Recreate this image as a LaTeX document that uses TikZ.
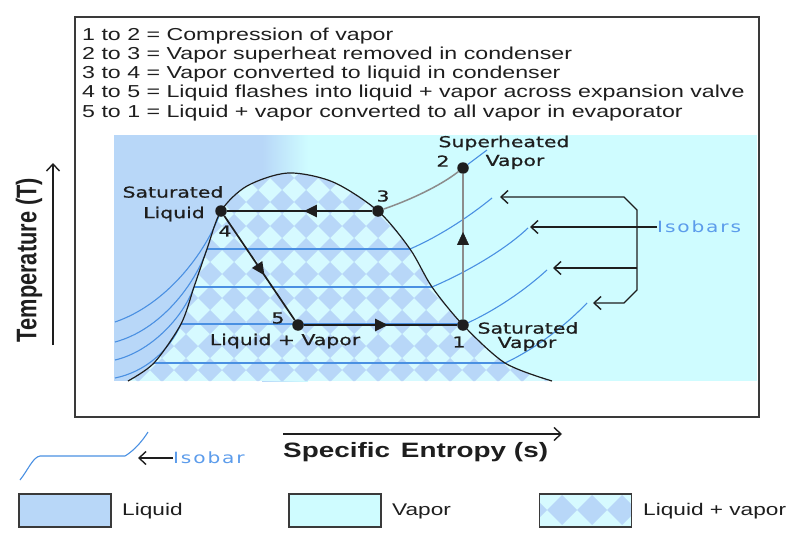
\documentclass[tikz,border=0pt]{standalone}
\usepackage{fontspec}
\setmainfont{Liberation Sans}[FakeStretch=1.34]
\newfontfamily\tslblfont{DejaVu Sans}[FakeStretch=1.36,FakeBold=0.8]
\newfontfamily\tsisofont{DejaVu Sans}[FakeStretch=1.3,LetterSpace=12]
\newfontfamily\tsaxisfont{Liberation Sans}
\usetikzlibrary{arrows.meta,decorations.markings}
\definecolor{tsLiquid}{HTML}{B8D7F8}
\definecolor{tsVapor}{HTML}{CFFCFF}
\definecolor{tsMix}{HTML}{D6FAFF}
\definecolor{tsIso}{HTML}{4A90E2}
\definecolor{tsIsoText}{HTML}{5C9CEB}
\definecolor{tsInk}{HTML}{1E1E1E}
\definecolor{tsFrame}{HTML}{3A3A3A}
\definecolor{tsGray}{HTML}{8C8C8C}
\tikzset{
  tsbox/.style={draw=tsFrame, line width=1.6pt},
  keybox/.style={draw=tsFrame, line width=1.6pt, minimum width=92pt, minimum height=33pt, inner sep=0pt},
  tskey/.style={font=\fontsize{17.3}{19}\selectfont, text=tsInk, inner sep=0pt},
  tslegend/.style={font=\fontsize{16.9}{19}\selectfont, text=tsInk, inner sep=0pt},
  tslabel/.style={font=\tslblfont\fontsize{15}{17}\selectfont, text=tsInk, inner sep=0pt},
  isolbl/.style={font=\tsisofont\fontsize{15.5}{17}\selectfont, text=tsIsoText, inner sep=0pt},
  tsdot/.style={circle, fill=tsInk, inner sep=0pt, minimum size=11.5pt},
  tsiso/.style={draw=tsIso, line width=1.1pt},
  tsline/.style={draw=tsInk, line width=2.2pt},
  tsarrow/.style={postaction={decorate}, decoration={markings,
      mark=at position #1 with {\arrow{Triangle[length=13pt,width=12pt]}}}},
  tsbarb/.style={-{Straight Barb[length=7pt,width=13pt]}, line width=1.4pt, draw=tsInk}
}
\begin{document}
\begin{tikzpicture}[x=1pt, y=-1pt]
\useasboundingbox (0,0) rectangle (793,535);

\draw[tsbox] (75,17) rectangle (759,417);
\foreach \txt [count=\k] in {1 to 2 = Compression of vapor,
    2 to 3 = Vapor superheat removed in condenser,
    3 to 4 = Vapor converted to liquid in condenser,
    4 to 5 = Liquid flashes into liquid + vapor across expansion valve,
    5 to 1 = Liquid + vapor converted to all vapor in evaporator}
  \node[tskey, anchor=base west] (key\k) at (82,{40.7+19.1*(\k-1)}) {\txt};

% phase regions
\fill[tsVapor] (114,135) rectangle (757,381);
\fill[tsLiquid] (114,135) rectangle (262,381);
\shade[left color=tsLiquid, right color=tsVapor] (262,135) rectangle (308,381);
\begin{scope}
  \clip plot[smooth] coordinates {(128,381) (154,363) (181,324) (194,287) (207,249) (221,211)
      (247,186) (288,173) (333,182) (378,211) (410,249) (432,287) (463,325) (505,363) (552,381)} -- cycle;
  \fill[tsMix] (114,135) rectangle (757,381);
  \foreach \i in {0,...,19} {
    \foreach \j in {0,...,11} {
      \fill[tsLiquid] ({114+24*\i+12},{130+24*\j}) -- ++(-12,12) -- ++(-12,-12) -- ++(12,-12) -- cycle;
    }
  }
\end{scope}

% isobars
\draw[tsiso] (207,249) -- (410,249);
\draw[tsiso] (194,287) -- (432,287);
\draw[tsiso] (181,324) -- (463,324);
\draw[tsiso] (154,363) -- (505,363);
\draw[tsiso] (115,322) .. controls (165,305) and (205,255) .. (221,211);
\draw[tsiso] (115,342) .. controls (160,330) and (195,285) .. (207,249);
\draw[tsiso] (115,360) .. controls (150,352) and (183,318) .. (194,287);
\draw[tsiso] (115,378) .. controls (145,372) and (170,350) .. (181,324);
\draw[tsiso] (410,249) .. controls (440,236) and (470,216) .. (492,198);
\draw[tsiso] (432,287) .. controls (465,273) and (505,250) .. (528,228);
\draw[tsiso] (463,325) .. controls (495,311) and (525,290) .. (547,270);
\draw[tsiso] (505,363) .. controls (535,349) and (565,326) .. (587,303);

% saturation dome
\draw[draw=tsInk, line width=1.2pt] plot[smooth] coordinates {(128,381) (154,363) (181,324) (194,287) (207,249) (221,211)
    (247,186) (288,173) (333,182) (378,211) (410,249) (432,287) (463,325) (505,363) (552,381)};

% cycle states
\node[tsdot] (p1) at (463,325) {};
\node[tsdot] (p2) at (463,168) {};
\node[tsdot] (p3) at (378,211) {};
\node[tsdot] (p4) at (221,211) {};
\node[tsdot] (p5) at (298,325) {};
\coordinate (isoTop) at (487,150);
\draw[tsiso] (p2) -- (isoTop);
\draw[draw=tsGray, line width=1.5pt] (p3) .. controls (410,200) and (440,186) .. (p2);
\draw[tsline, tsarrow=0.47] (p3) -- (p4);
\draw[tsline, line width=1.7pt, tsarrow=0.57] (p4) -- (p5);
\draw[tsline, tsarrow=0.55] (p5) -- (p1);
\draw[draw=tsGray, line width=1.7pt] (p1) -- (p2);
\path[tsInk, tsarrow=0.6] (p1) -- (p2);

\node[tslabel] (satLiqA) at (173,192) {Saturated};
\node[tslabel] (satLiqB) at (174,214) {Liquid};
\node[tslabel] (n4) at (225,231) {4};
\node[tslabel] (n3) at (383,196) {3};
\node[tslabel] (n5) at (278,318) {5};
\node[tslabel] (mixLbl) at (285,341) {Liquid + Vapor};
\node[tslabel] (supA) at (504,143) {Superheated};
\node[tslabel] (n2) at (443,161) {2};
\node[tslabel] (supB) at (515,162) {Vapor};
\node[tslabel] (satVapA) at (528,328) {Saturated};
\node[tslabel] (satVapB) at (527,344) {Vapor};
\node[tslabel] (n1) at (459,342) {1};

% isobar pointers
\coordinate (tipA) at (500,197);
\coordinate (tipB) at (530,227);
\coordinate (tipC) at (553,268);
\coordinate (tipD) at (593,303);
\coordinate (brk) at (637,268);
\node[isolbl, anchor=west] (isoTxt) at (657,227) {Isobars};
\draw[tsbarb, {Straight Barb[length=7pt,width=13pt]}-{Straight Barb[length=7pt,width=13pt]}]
  (tipA) -- ++(124,0) -- ++(13,13) -- (637,290) -- ++(-13,13) -- (tipD);
\draw[tsbarb] (isoTxt.west) -- (tipB);
\draw[tsbarb] (brk) -- (tipC);

% axes
\coordinate (tLow) at (53,345);
\coordinate (tHigh) at (53,163);
\draw[tsbarb] (tLow) -- (tHigh);
\node[rotate=90, font=\tsaxisfont\bfseries\fontsize{21.8}{24}\selectfont, text=tsInk, inner sep=0pt] (tLbl) at (29,260)
  {\scalebox{1}[1.3]{Temperature (T)}};
\coordinate (sLow) at (283,434);
\coordinate (sHigh) at (562,434);
\draw[tsbarb] (sLow) -- (sHigh);
\node[font=\bfseries\fontsize{20.8}{24}\selectfont, text=tsInk, inner sep=0pt, anchor=base west] (sLbl) at (283,457)
  {Specific\hspace{0.15em} Entropy (s)};

% legend
\draw[tsiso] (20,480) .. controls (28,470) and (33,457) .. (40,456) -- (125,456) .. controls (135,450) and (143,440) .. (148,432);
\node[isolbl, anchor=west] (isoKey) at (173,458) {Isobar};
\coordinate (isoKeyTip) at (138,458);
\draw[tsbarb] (isoKey.west) -- (isoKeyTip);

\node[keybox, fill=tsLiquid] (keyLiq) at (65,510.5) {};
\node[tslegend, anchor=west] (keyLiqTxt) at (122,511) {Liquid};
\node[keybox, fill=tsVapor] (keyVap) at (335,510.5) {};
\node[tslegend, anchor=west] (keyVapTxt) at (392,511) {Vapor};
\begin{scope}
  \clip (540,494) rectangle (631,527);
  \fill[tsMix] (540,494) rectangle (631,527);
  \foreach \i in {0,...,3} {
    \fill[tsLiquid] ({532+30*\i+15},510) -- ++(-15,15) -- ++(-15,-15) -- ++(15,-15) -- cycle;
  }
\end{scope}
\node[keybox] (keyMix) at (585.5,510.5) {};
\node[tslegend, anchor=west] (keyMixTxt) at (643,511) {Liquid + vapor};

\end{tikzpicture}
\end{document}
